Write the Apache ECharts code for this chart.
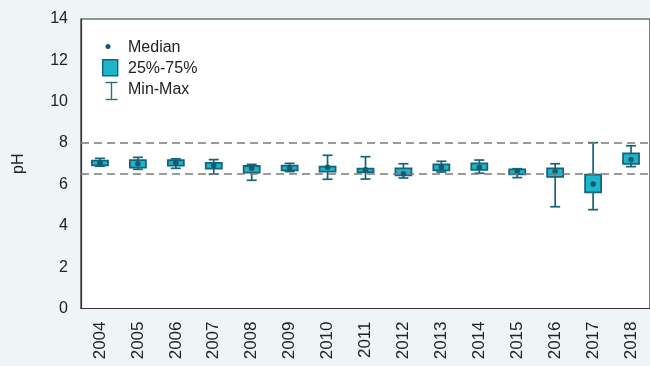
<!DOCTYPE html>
<html>
<head>
<meta charset="utf-8">
<title>pH 2004–2018</title>
<script src="https://cdn.jsdelivr.net/npm/echarts@6/dist/echarts.min.js"></script>
<style>
  html, body { margin: 0; padding: 0; background: #eef5f6; }
  #chart { width: 650px; height: 366px; }
</style>
</head>
<body>
<div id="chart"></div>
<script>
// Yearly pH statistics
const years = ['2004','2005','2006','2007','2008','2009','2010','2011','2012','2013','2014','2015','2016','2017','2018'];
const phMin    = [6.88, 6.73, 6.78, 6.50, 6.20, 6.62, 6.25, 6.26, 6.31, 6.60, 6.54, 6.33, 4.92, 4.78, 6.86];
const phQ1     = [6.92, 6.81, 6.91, 6.76, 6.57, 6.68, 6.62, 6.59, 6.44, 6.68, 6.70, 6.49, 6.37, 5.62, 6.99];
const phMedian = [7.02, 7.00, 7.05, 6.91, 6.78, 6.79, 6.83, 6.71, 6.52, 6.83, 6.83, 6.62, 6.62, 6.02, 7.20];
const phQ3     = [7.15, 7.18, 7.17, 7.04, 6.89, 6.91, 6.86, 6.76, 6.78, 6.97, 7.02, 6.73, 6.78, 6.47, 7.50];
const phMax    = [7.26, 7.31, 7.24, 7.20, 6.97, 7.02, 7.41, 7.34, 7.00, 7.12, 7.18, 6.76, 7.00, 8.02, 7.87];
const yTicks   = [0, 2, 4, 6, 8, 10, 12, 14];
const limitLow = 6.5;
const limitHigh = 8;

const boxFill = '#1cb5cb';
const boxEdge = '#17647a';
const medianColor = '#135a6c';

const boxData = years.map((y, i) => [i, phMin[i], phQ1[i], phMedian[i], phQ3[i], phMax[i]]);

function renderBox(params, api) {
  const i = api.value(0);
  const pMin = api.coord([i, api.value(1)]);
  const pQ1 = api.coord([i, api.value(2)]);
  const pMed = api.coord([i, api.value(3)]);
  const pQ3 = api.coord([i, api.value(4)]);
  const pMax = api.coord([i, api.value(5)]);
  const cx = pMed[0];
  const boxW = 16;
  const capW = 10;
  const lineStyle = { stroke: boxEdge, lineWidth: 1.7, fill: null };
  return {
    type: 'group',
    children: [
      { type: 'line', shape: { x1: cx, y1: pMax[1], x2: cx, y2: pMin[1] }, style: lineStyle },
      { type: 'line', shape: { x1: cx - capW / 2, y1: pMax[1], x2: cx + capW / 2, y2: pMax[1] }, style: lineStyle },
      { type: 'line', shape: { x1: cx - capW / 2, y1: pMin[1], x2: cx + capW / 2, y2: pMin[1] }, style: lineStyle },
      { type: 'rect', shape: { x: cx - boxW / 2, y: pQ3[1], width: boxW, height: Math.max(pQ1[1] - pQ3[1], 2) },
        style: { fill: boxFill, stroke: boxEdge, lineWidth: 1.8 } },
      { type: 'circle', shape: { cx: cx, cy: pMed[1], r: 2.8 }, style: { fill: medianColor } }
    ]
  };
}

const chart = echarts.init(document.getElementById('chart'), null, { renderer: 'canvas' });

const font = 'Liberation Sans, Arial, sans-serif';

chart.setOption({
  backgroundColor: '#eef5f6',
  animation: false,
  textStyle: { fontFamily: font },
  grid: {
    left: 81, top: 19, width: 575, height: 289.5,
    show: true, backgroundColor: '#ffffff', borderColor: '#333333', borderWidth: 1.2
  },
  xAxis: {
    type: 'category',
    data: years,
    boundaryGap: true,
    axisLine: { show: true, lineStyle: { color: '#333333', width: 1.2 } },
    axisTick: { show: false },
    axisLabel: { rotate: 90, fontSize: 17, color: '#222222', margin: 13, fontFamily: font }
  },
  yAxis: {
    type: 'value',
    min: yTicks[0], max: yTicks[yTicks.length - 1], interval: 2,
    name: 'pH', nameLocation: 'middle', nameRotate: 90, nameGap: 54,
    nameTextStyle: { fontSize: 16, color: '#222222', fontFamily: font },
    axisLine: { show: true, lineStyle: { color: '#333333', width: 1.2 } },
    axisTick: { show: false },
    splitLine: { show: false },
    axisLabel: { fontSize: 16, color: '#222222', margin: 13, fontFamily: font }
  },
  series: [
    {
      type: 'custom',
      name: 'pH',
      renderItem: renderBox,
      encode: { x: 0, y: [1, 2, 3, 4, 5] },
      data: boxData,
      z: 3,
      markLine: {
        silent: true,
        symbol: 'none',
        label: { show: false },
        lineStyle: { color: '#7a7a7a', type: [8, 5], width: 1.6 },
        data: [{ yAxis: limitHigh }, { yAxis: limitLow }]
      }
    }
  ],
  graphic: [
    { type: 'circle', left: 105.5, top: 44, shape: { r: 2.5 }, style: { fill: medianColor } },
    { type: 'text', left: 128, top: 40, style: { text: 'Median', font: '16px ' + font, fill: '#222222' } },
    { type: 'rect', left: 102, top: 59, shape: { width: 15, height: 16 }, style: { fill: boxFill, stroke: boxEdge, lineWidth: 1.4 } },
    { type: 'text', left: 128, top: 61, style: { text: '25%-75%', font: '16px ' + font, fill: '#222222' } },
    { type: 'group', left: 103, top: 80, children: [
      { type: 'line', shape: { x1: 6, y1: 0, x2: 6, y2: 17 }, style: { stroke: '#2a6f7c', lineWidth: 1.4 } },
      { type: 'line', shape: { x1: 0, y1: 0, x2: 12, y2: 0 }, style: { stroke: '#2a6f7c', lineWidth: 1.4 } },
      { type: 'line', shape: { x1: 0, y1: 17, x2: 12, y2: 17 }, style: { stroke: '#2a6f7c', lineWidth: 1.4 } }
    ] },
    { type: 'text', left: 128, top: 82, style: { text: 'Min-Max', font: '16px ' + font, fill: '#222222' } }
  ]
});
</script>
</body>
</html>
